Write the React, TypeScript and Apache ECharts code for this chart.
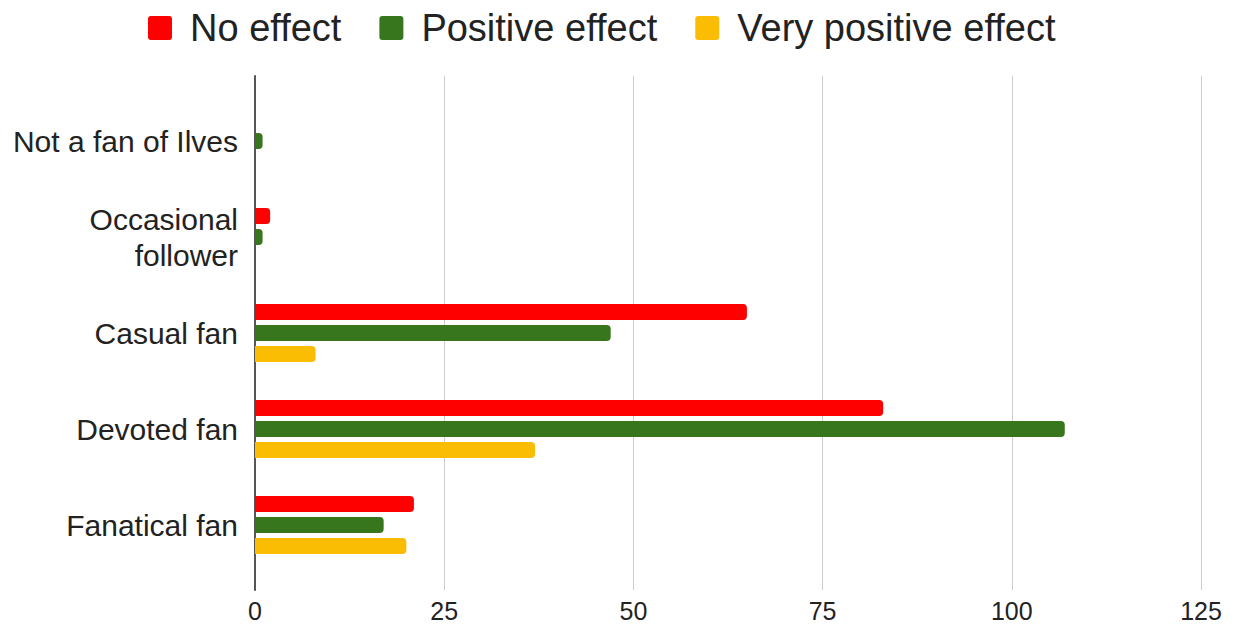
import React, { useEffect, useRef } from "react";
import * as echarts from "echarts";

const categories = ["Not a fan of Ilves", "Occasional\nfollower", "Casual fan", "Devoted fan", "Fanatical fan"];
const noEffect = [0, 2, 65, 83, 21];
const positiveEffect = [1, 1, 47, 107, 17];
const veryPositiveEffect = [0, 0, 8, 37, 20];
const xTicks = { min: 0, max: 125, interval: 25 };

const FONT = "'Liberation Sans', Arial, sans-serif";
const LEGEND_ICON = "path://M3,0 H21 Q24,0 24,3 V21 Q24,24 21,24 H3 Q0,24 0,21 V3 Q0,0 3,0 Z";

export default function App() {
  const ref = useRef<HTMLDivElement>(null);
  useEffect(() => {
    document.body.style.margin = "0";
    const chart = echarts.init(ref.current!, null, { renderer: "svg" });
    const barCommon = {
      type: "bar" as const,
      xAxisIndex: 1,
      yAxisIndex: 1,
      barWidth: 16,
      barGap: "31%",
      itemStyle: { borderRadius: [0, 4, 4, 0] },
    };
    chart.setOption({
      animation: false,
      backgroundColor: "#ffffff",
      textStyle: { fontFamily: FONT },
      legend: {
        top: 4,
        left: 143,
        itemWidth: 24,
        itemHeight: 24,
        itemGap: 38,
        icon: LEGEND_ICON,
        textStyle: { fontSize: 38, color: "#222222", fontFamily: FONT, padding: [0, 0, 0, 13] },
        data: ["No effect", "Positive effect", "Very positive effect"],
      },
      grid: [
        { left: 255, right: 39, top: 76, bottom: 40, containLabel: false },
        { left: 255, right: 39, top: 93, bottom: 57, containLabel: false },
      ],
      xAxis: [
        {
          gridIndex: 0,
          type: "value",
          min: xTicks.min,
          max: xTicks.max,
          interval: xTicks.interval,
          axisLine: { show: false },
          axisTick: { show: false },
          splitLine: { show: true, lineStyle: { color: "#cccccc", width: 1 } },
          axisLabel: { fontSize: 25, color: "#222222", fontFamily: FONT, margin: 8 },
        },
        {
          gridIndex: 1,
          type: "value",
          min: xTicks.min,
          max: xTicks.max,
          interval: xTicks.interval,
          show: false,
        },
      ],
      yAxis: [
        {
          gridIndex: 0,
          type: "value",
          min: 0,
          max: 1,
          axisLine: { show: true, lineStyle: { color: "#555555", width: 2 } },
          axisTick: { show: false },
          axisLabel: { show: false },
          splitLine: { show: false },
        },
        {
          gridIndex: 1,
          type: "category",
          inverse: true,
          data: categories,
          axisLine: { show: false },
          axisTick: { show: false },
          splitLine: { show: false },
          axisLabel: { fontSize: 30, color: "#222222", fontFamily: FONT, margin: 17, lineHeight: 36, align: "right" },
        },
      ],
      series: [
        { ...barCommon, name: "No effect", data: noEffect, itemStyle: { ...barCommon.itemStyle, color: "#ff0000" } },
        { ...barCommon, name: "Positive effect", data: positiveEffect, itemStyle: { ...barCommon.itemStyle, color: "#38761d" } },
        { ...barCommon, name: "Very positive effect", data: veryPositiveEffect, itemStyle: { ...barCommon.itemStyle, color: "#fbbc04" } },
      ],
    });
    return () => chart.dispose();
  }, []);
  return <div ref={ref} style={{ width: 1240, height: 630 }} />;
}
